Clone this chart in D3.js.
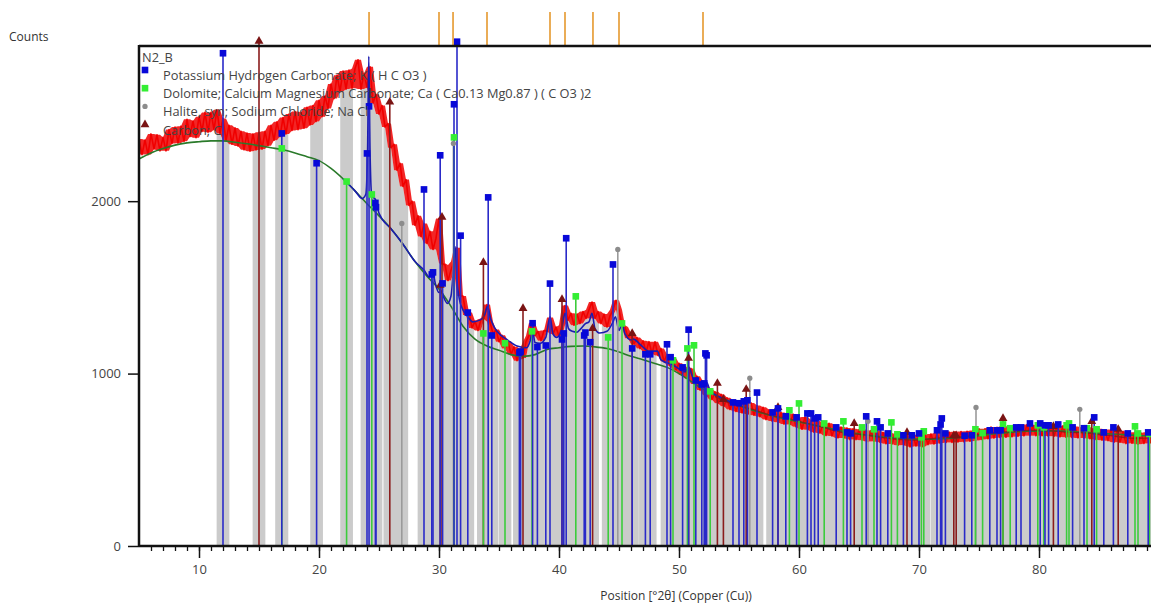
<!DOCTYPE html>
<html>
<head>
<meta charset="utf-8">
<script src="https://cdn.jsdelivr.net/npm/d3@7"></script>
<style>
body { margin: 0; background: #fff; overflow: hidden; }
svg { display: block; font-family: "Open Sans", sans-serif; }
</style>
</head>
<body>
<div id="chart"></div>
<script>

// observed scan, one value every 0.25 deg from 5.00 deg
const obsStart = 5, obsStep = 0.25;
const observedCounts = [
    2360, 2270, 2355, 2270, 2390, 2303, 2385, 2292,
    2370, 2292, 2415, 2335, 2430, 2337, 2435, 2347,
    2475, 2375, 2465, 2368, 2490, 2405, 2515, 2400,
    2515, 2415, 2530, 2393, 2480, 2352, 2440, 2330,
    2425, 2320, 2405, 2298, 2395, 2290, 2390, 2297,
    2400, 2302, 2405, 2322, 2440, 2353, 2460, 2375,
    2485, 2390, 2505, 2410, 2520, 2415, 2515, 2423,
    2545, 2442, 2555, 2462, 2585, 2490, 2610, 2538,
    2680, 2595, 2730, 2635, 2755, 2650, 2760, 2655,
    2770, 2820, 2650, 2740, 2660, 2780, 2570, 2620,
    2505, 2555, 2430, 2450, 2310, 2330, 2180, 2220,
    2085, 2125, 1975, 2000, 1860, 1915, 1795, 1870,
    1755, 1825, 1720, 1785, 1900, 1640, 1630, 1540,
    1600, 1650, 1730, 1450, 1450, 1340, 1355, 1265,
    1305, 1250, 1315, 1320, 1400, 1300, 1230, 1255,
    1185, 1222, 1145, 1188, 1110, 1155, 1075, 1142,
    1090, 1185, 1220, 1295, 1220, 1245, 1190, 1250,
    1245, 1325, 1230, 1270, 1215, 1280, 1395, 1310,
    1350, 1280, 1345, 1290, 1360, 1320, 1370, 1415,
    1320, 1360, 1290, 1345, 1270, 1335, 1370, 1425,
    1370, 1280, 1270, 1205, 1235, 1170, 1210, 1145,
    1190, 1125, 1185, 1115, 1185, 1105, 1145, 1070,
    1110, 1045, 1090, 1020, 1060, 992, 1040, 970,
    1030, 940, 985, 905, 955, 875, 915, 850,
    895, 828, 880, 810, 860, 792, 845, 780,
    840, 772, 830, 765, 830, 758, 815, 750,
    805, 733, 790, 725, 790, 718, 775, 707,
    770, 705, 765, 692, 745, 677, 748, 674,
    730, 660, 725, 655, 710, 641, 712, 638,
    695, 627, 690, 627, 685, 617, 680, 617,
    675, 614, 672, 606, 670, 608, 670, 602,
    660, 593, 655, 592, 650, 584, 648, 586,
    645, 575, 645, 580, 645, 576, 647, 588,
    650, 592, 655, 597, 660, 600, 661, 601,
    662, 603, 664, 604, 665, 608, 670, 612,
    680, 618, 680, 622, 690, 626, 688, 629,
    695, 631, 693, 634, 700, 637, 698, 639,
    705, 640, 700, 640, 705, 640, 699, 638,
    703, 637, 695, 633, 697, 631, 690, 629,
    693, 627, 686, 626, 690, 622, 680, 618,
    680, 614, 672, 611, 675, 602, 665, 602,
    665, 594, 657, 596, 660, 590, 655, 595,
    660, 597, 660
];

// background, one value per degree from 5 to 90
const bgStart = 5;
const backgroundCounts = [
    2245, 2280, 2305, 2325, 2338, 2345, 2350, 2350, 2342, 2333,
    2322, 2310, 2298, 2280, 2258, 2235, 2190, 2130, 2060, 1985,
    1915, 1840, 1750, 1650, 1565, 1490, 1390, 1275, 1200, 1160,
    1135, 1110, 1100, 1110, 1140, 1150, 1158, 1160, 1155, 1145,
    1125, 1100, 1080, 1058, 1036, 1000, 955, 910, 875, 845,
    815, 790, 770, 750, 735, 720, 705, 690, 675, 660,
    650, 640, 632, 626, 622, 620, 620, 622, 626, 632,
    640, 648, 656, 662, 666, 668, 668, 666, 662, 658,
    654, 650, 646, 642, 638, 635
];

// fitted profile
const profilePos = [22, 23, 23.6, 23.9, 24.05, 24.15, 24.25, 24.4, 24.7, 25,
    26, 27, 28, 28.75, 29.2, 29.45, 29.7, 30, 30.2, 30.35,
    30.7, 31, 31.2, 31.35, 31.5, 31.7, 32, 32.4, 32.8, 33.4,
    33.8, 34.05, 34.3, 34.6, 35.2, 35.7, 36.5, 37.3, 37.6, 37.8,
    38, 38.4, 38.9, 39.25, 39.5, 39.8, 40.2, 40.5, 40.8, 41.1,
    41.5, 41.75, 42.2, 42.5, 42.75, 43, 43.4, 44, 44.5, 44.7,
    45, 45.25, 45.5, 46, 46.2, 46.75, 47.5, 48.2, 48.5, 49.5,
    50.5, 50.8, 51.2, 52, 52.3, 52.6, 53.5, 55];
const profileCounts = [2130, 2060, 2015, 2040, 2300, 2840, 2300, 2030, 2010, 1930,
    1840, 1750, 1650, 1600, 1560, 1600, 1520, 1470, 1480, 1450,
    1407, 1450, 1600, 1735, 1540, 1430, 1369, 1330, 1300, 1310,
    1340, 1390, 1320, 1270, 1220, 1195, 1160, 1150, 1190, 1250,
    1180, 1175, 1210, 1330, 1230, 1210, 1250, 1350, 1260, 1245,
    1240, 1255, 1290, 1300, 1350, 1260, 1235, 1245, 1300, 1330,
    1250, 1290, 1230, 1195, 1200, 1170, 1130, 1130, 1080, 1050,
    1010, 1040, 970, 935, 950, 900, 860, 815];

const profileHiPos = [53, 54, 55, 56, 57, 58, 59, 60, 61, 62, 63, 64, 65, 66, 67, 68, 69, 70,
    71, 72, 73, 74, 75, 76, 77, 78, 79, 80, 81, 82, 83, 84, 85, 86, 87, 88, 89.5];
const profileHiCounts = [868, 835, 812, 795, 772, 752, 742, 722, 705, 688, 668, 655, 648, 640, 628, 620, 616, 614,
    622, 628, 632, 636, 646, 655, 662, 665, 670, 671, 668, 662, 658, 655, 646, 640, 630, 625, 628];

// reference peak list (top markers)
const refPeaks = [24.17, 30.0, 31.17, 34.0, 39.25, 40.5, 42.83, 45.0, 52.0];

// phase sticks [position, counts]
const khco3Sticks = [[12.0, 2858], [16.9, 2393], [19.8, 2220], [24.0, 2277], [24.17, 2550], [24.7, 1990],
    [24.75, 1965], [28.75, 2068], [29.4, 1575], [29.5, 1587], [30.1, 2266], [30.3, 1523], [31.25, 2562],
    [31.5, 2925], [31.8, 1800], [32.4, 1354], [34.1, 2022], [34.4, 1221], [36.7, 1122], [36.8, 1128],
    [37.8, 1292], [38.2, 1154], [38.9, 1163], [39.25, 1522], [40.25, 1198], [40.4, 1233], [40.6, 1785],
    [42.1, 1221], [42.2, 1238], [42.6, 1182], [44.5, 1633], [46.1, 1146], [47.2, 1112], [47.6, 1112],
    [49.0, 1170], [49.3, 1095], [50.3, 1036], [50.8, 1255], [51.4, 960], [51.9, 937], [52.1, 943],
    [52.2, 1117], [52.3, 1106], [54.5, 833], [55.0, 828], [55.4, 839], [55.7, 845], [56.5, 890],
    [57.8, 775], [58.25, 798], [58.9, 752], [59.8, 746], [60.7, 769], [61.0, 769], [61.3, 740],
    [61.6, 746], [63.1, 688], [64.0, 659], [64.3, 653], [65.6, 752], [66.5, 723], [66.8, 688],
    [67.4, 653], [68.7, 642], [69.4, 642], [70.0, 653], [71.5, 671], [71.8, 705], [71.9, 740],
    [72.2, 653], [73.8, 640], [74.4, 642], [75.9, 671], [76.5, 671], [76.8, 671], [78.1, 688], [78.5, 688],
    [79.25, 711], [80.1, 711], [80.5, 700], [80.8, 700], [81.6, 705], [82.8, 688], [83.75, 683],
    [84.6, 746], [85.4, 659], [86.2, 688], [87.4, 653], [89.1, 659]];

const dolomiteSticks = [[16.9, 2306], [22.3, 2114], [24.4, 2039], [31.25, 2370], [33.7, 1233], [35.5, 1176],
    [37.75, 1245], [41.4, 1448], [44.1, 1210], [45.25, 1291], [49.5, 1077], [50.7, 1146], [51.25, 1164],
    [52.6, 897], [59.2, 787], [60.0, 827], [62.1, 711], [63.7, 723], [65.25, 688], [66.25, 677],
    [67.7, 717], [68.2, 648], [70.2, 630], [70.4, 665], [74.7, 677], [75.3, 655], [77.0, 705], [77.6, 683],
    [79.9, 700], [80.4, 688], [82.3, 700], [82.5, 711], [84.0, 683], [84.8, 677], [88.0, 694],
    [88.25, 653], [89.2, 650]];

const haliteSticks = [[26.9, 1871], [31.2, 2335], [44.9, 1720], [55.9, 973], [65.75, 723], [74.75, 804], [83.4, 793]];

const carbonSticks = [[15.0, 2928], [25.9, 2575], [30.1, 1512], [30.25, 1907], [33.7, 1645], [37.0, 1378],
    [40.25, 1430], [42.8, 1262], [46.1, 1233], [50.8, 1089], [53.2, 944], [53.7, 850], [55.6, 909], [58.25, 804],
    [64.6, 711], [69.0, 659], [72.9, 640], [73.1, 640], [77.0, 740], [81.2, 694], [84.4, 723], [86.6, 677]];

const legendLabels = [
    "Potassium Hydrogen Carbonate; K ( H C O3 )",
    "Dolomite; Calcium Magnesium Carbonate; Ca ( Ca0.13 Mg0.87 ) ( C O3 )2",
    "Halite, syn; Sodium Chloride; Na Cl",
    "Carbon; C"
];

const xTicks = [10, 20, 30, 40, 50, 60, 70, 80];
const yTicks = [0, 1000, 2000];

// ---------------------------------------------------------------

const W = 1151, H = 605;

const svg = d3.select("#chart").append("svg")
    .attr("width", W)
    .attr("height", H);

const x = d3.scaleLinear().domain([5, 90]).range([139, 1159]);
const y = d3.scaleLinear().domain([0, 2900]).range([546, 46]);

let observed = observedCounts.map((c, i) => {
    let lo = d3.min(observedCounts.slice(Math.max(0, i - 1), i + 2));
    let hi = d3.max(observedCounts.slice(Math.max(0, i - 1), i + 2));
    return {pos: obsStart + i * obsStep, c: c, lo: lo, hi: hi};
});
let background = backgroundCounts.map((c, i) => ({pos: bgStart + i, c: c}));
let profile = profilePos.map((p, i) => ({pos: p, c: profileCounts[i]}));
let profileHi = profileHiPos.map((p, i) => ({pos: p, c: profileHiCounts[i]}));

let phases = [
    {sticks: carbonSticks, line: "#8a1c1c", fill: "#7a1414", shape: d3.symbolTriangle, size: 34},
    {sticks: haliteSticks, line: "#9a9a9a", fill: "#8c8c8c", shape: d3.symbolCircle, size: 22},
    {sticks: dolomiteSticks, line: "#3ccc3c", fill: "#33ee33", shape: d3.symbolSquare, size: 44},
    {sticks: khco3Sticks, line: "#2a2ac8", fill: "#0808d8", shape: d3.symbolSquare, size: 44}
];

// grey bands under the scan around every stick
let allPos = [];
phases.forEach(ph => ph.sticks.forEach(s => allPos.push(s[0])));

let clip = svg.append("defs").append("clipPath").attr("id", "bands");
clip.selectAll("rect")
    .data(allPos)
    .enter()
    .append("rect")
    .attr("x", d => x(d - 0.53))
    .attr("width", d => x(d + 0.53) - x(d - 0.53))
    .attr("y", 0)
    .attr("height", H);

let area = d3.area()
    .x(d => x(d.pos))
    .y0(y(0))
    .y1(d => y(d.lo));

svg.append("path")
    .datum(observed)
    .attr("d", area)
    .attr("fill", "#cbcbcb")
    .attr("clip-path", "url(#bands)");

// observed scan: noise band plus trace
let band = d3.area()
    .x(d => x(d.pos))
    .y0(d => y(d.lo))
    .y1(d => y(d.hi));

svg.append("path")
    .datum(observed)
    .attr("d", band)
    .attr("fill", "#f00000")
    .attr("opacity", 0.85);

let line = d3.line().x(d => x(d.pos)).y(d => y(d.c));

svg.append("path")
    .datum(observed)
    .attr("d", line)
    .attr("fill", "none")
    .attr("stroke", "#f00000")
    .attr("stroke-width", 1.6)
    .attr("stroke-linejoin", "round");

// background
svg.append("path")
    .datum(background)
    .attr("d", line.curve(d3.curveMonotoneX))
    .attr("fill", "none")
    .attr("stroke", "#2a7a2a")
    .attr("stroke-width", 1.6);

// fitted profile
svg.append("path")
    .datum(profile)
    .attr("d", line.curve(d3.curveMonotoneX))
    .attr("fill", "none")
    .attr("stroke", "#1c1cb0")
    .attr("stroke-width", 1.6);

svg.append("path")
    .datum(profileHi)
    .attr("d", line.curve(d3.curveMonotoneX))
    .attr("fill", "none")
    .attr("stroke", "#8b1414")
    .attr("stroke-width", 1.3)
    .attr("opacity", 0.8);

// sticks
phases.forEach(ph => {
    svg.append("g").selectAll("line")
        .data(ph.sticks)
        .enter()
        .append("line")
        .attr("x1", d => x(d[0]))
        .attr("x2", d => x(d[0]))
        .attr("y1", y(0))
        .attr("y2", d => y(d[1]))
        .attr("stroke", ph.line)
        .attr("stroke-width", 1.6);
});

phases.forEach(ph => {
    svg.append("g").selectAll("path")
        .data(ph.sticks)
        .enter()
        .append("path")
        .attr("transform", d => "translate(" + x(d[0]) + "," + y(d[1]) + ")")
        .attr("d", d3.symbol().type(ph.shape).size(ph.size))
        .attr("fill", ph.fill);
});

// reference peak marks above the frame
svg.append("g").selectAll("line")
    .data(refPeaks)
    .enter()
    .append("line")
    .attr("x1", d => x(d))
    .attr("x2", d => x(d))
    .attr("y1", 12)
    .attr("y2", 45)
    .attr("stroke", "#e8a445")
    .attr("stroke-width", 1.8);

// axes
let minor = svg.append("g")
    .attr("transform", "translate(0," + y(0) + ")")
    .call(d3.axisBottom(x).tickValues(d3.range(6, 90)).tickSize(5).tickFormat(""));
minor.select(".domain").remove();
minor.selectAll("line").attr("stroke", "#111").attr("stroke-width", 1.3);

let major = svg.append("g")
    .attr("transform", "translate(0," + y(0) + ")")
    .call(d3.axisBottom(x).tickValues(xTicks).tickSize(12).tickPadding(7));
major.select(".domain").remove();
major.selectAll("line").attr("stroke", "#111").attr("stroke-width", 1.5);
major.selectAll("text").attr("fill", "#444").style("font-size", "13px")
    .style("font-family", "'Open Sans', sans-serif");

let yAxis = svg.append("g")
    .attr("transform", "translate(139,0)")
    .call(d3.axisLeft(y).tickValues(yTicks).tickSize(11).tickPadding(7).tickFormat(d3.format("d")));
yAxis.select(".domain").remove();
yAxis.selectAll("line").attr("stroke", "#111").attr("stroke-width", 1.5);
yAxis.selectAll("text").attr("fill", "#444").style("font-size", "13px")
    .style("font-family", "'Open Sans', sans-serif");

// frame
svg.append("line").attr("x1", 139).attr("x2", W).attr("y1", 46).attr("y2", 46)
    .attr("stroke", "#111").attr("stroke-width", 2.5);
svg.append("line").attr("x1", 139).attr("x2", W).attr("y1", y(0)).attr("y2", y(0))
    .attr("stroke", "#111").attr("stroke-width", 2.5);
svg.append("line").attr("x1", 139).attr("x2", 139).attr("y1", 45).attr("y2", y(0) + 1)
    .attr("stroke", "#111").attr("stroke-width", 2.5);

// labels
svg.append("text")
    .attr("x", 9).attr("y", 41)
    .attr("fill", "#333")
    .style("font-size", "12px")
    .text("Counts");

svg.append("text")
    .attr("x", 676).attr("y", 600)
    .attr("text-anchor", "middle")
    .attr("fill", "#333")
    .style("font-size", "12px")
    .text("Position [°2θ] (Copper (Cu))");

// legend
let legend = svg.append("g");
legend.append("text")
    .attr("x", 142).attr("y", 62)
    .attr("fill", "#444")
    .style("font-size", "12.8px")
    .text("N2_B");

let lg = legend.selectAll("g.item")
    .data(legendLabels)
    .enter()
    .append("g")
    .attr("class", "item")
    .attr("transform", (d, i) => "translate(0," + (i * 18.2) + ")");

lg.append("path")
    .attr("transform", "translate(145,70)")
    .attr("d", (d, i) => d3.symbol().type(phases[3 - i].shape).size(phases[3 - i].size)())
    .attr("fill", (d, i) => phases[3 - i].fill);

lg.append("text")
    .attr("x", 163).attr("y", 80)
    .attr("fill", "#444")
    .style("font-size", "12.8px")
    .text(d => d);

</script>
</body>
</html>
